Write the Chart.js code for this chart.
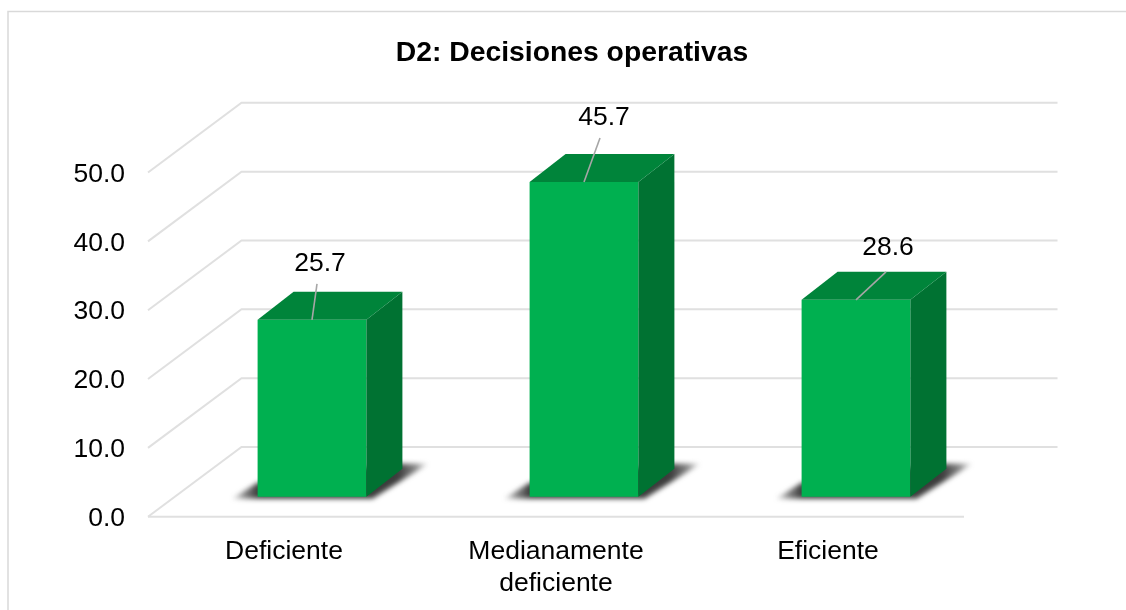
<!DOCTYPE html>
<html><head><meta charset="utf-8">
<style>html,body{margin:0;padding:0;background:#fff}canvas{display:block}</style>
<script src="https://cdn.jsdelivr.net/npm/chart.js@4"></script>
</head><body><canvas id="c" width="1126" height="610"></canvas>
<script>
const categories = [["Deficiente"], ["Medianamente", "deficiente"], ["Eficiente"]];
const values = [25.7, 45.7, 28.6];
const valueTexts = ["25.7", "45.7", "28.6"];
const tickStep = 10;
const axisMax = 50;

// depth of the pseudo-3D box and walls (px)
const WALL = {dx: 93.5, dy: 69.7};
const BAR = {dx: 36, dy: 28, shiftX: 28, shiftY: 20};
const CALLOUTS = [
  {tx: 8, ty: -56.5, lx: 5, ly: -36},
  {tx: 20, ty: -64, lx: 16, ly: -44},
  {tx: 32, ty: -52, lx: 30, ly: -28}
];
const FONT_SIZE = 26.5;

const fake3d = {
  id: 'fake3d',
  afterLayout(chart) {
    chart.titleBlock.left += 90; chart.titleBlock.right += 90;
  },
  beforeDraw(chart) {
    const c = chart.ctx;
    c.save();
    c.fillStyle = '#fff'; c.fillRect(0, 0, chart.width, chart.height);
    c.strokeStyle = '#d9d9d9'; c.lineWidth = 1.5;
    c.beginPath(); c.moveTo(8, 610); c.lineTo(8, 11.5); c.lineTo(1126, 11.5); c.stroke();
    c.restore();
  },
  beforeDatasetsDraw(chart) {
    const c = chart.ctx, y = chart.scales.y, a = chart.chartArea;
    c.save();
    c.strokeStyle = '#e0e0e0'; c.lineWidth = 2;
    y.ticks.forEach(t => {
      const py = y.getPixelForValue(t.value);
      c.beginPath();
      c.moveTo(a.left, py);
      c.lineTo(a.left + WALL.dx, py - WALL.dy);
      c.lineTo(a.right + WALL.dx, py - WALL.dy);
      c.stroke();
    });
    const p0 = y.getPixelForValue(0);
    c.beginPath(); c.moveTo(a.left, p0); c.lineTo(a.right, p0); c.stroke();
    // floor shadows
    chart.getDatasetMeta(0).data.forEach(b => {
      const L = b.x - b.width / 2 + BAR.shiftX, R = b.x + b.width / 2 + BAR.shiftX, B = b.base - BAR.shiftY;
      const g = c.createLinearGradient(L - 26, 0, R + BAR.dx + 26, 0);
      const w = b.width + BAR.dx + 52;
      g.addColorStop(0, 'rgba(90,90,90,.1)');
      g.addColorStop(13 / w, 'rgba(70,70,70,.65)');
      g.addColorStop(26 / w, 'rgba(50,50,50,.95)');
      g.addColorStop((w - 30) / w, 'rgba(50,50,50,.95)');
      g.addColorStop((w - 13) / w, 'rgba(70,70,70,.65)');
      g.addColorStop(1, 'rgba(90,90,90,.1)');
      c.save();
      c.filter = 'blur(2.5px)';
      c.fillStyle = g;
      c.beginPath();
      c.moveTo(L - 26, B + 2);
      c.lineTo(R + 6, B + 2);
      c.lineTo(R + BAR.dx + 26, B - BAR.dy - 5);
      c.lineTo(R + BAR.dx - 6, B - BAR.dy - 5);
      c.lineTo(L, B - 14);
      c.closePath(); c.fill();
      c.restore();
    });
    // bars stand on the floor, behind the front edge
    c.restore();
    c.save();
    c.translate(BAR.shiftX, -BAR.shiftY);
  },
  afterDatasetsDraw(chart) {
    const c = chart.ctx;
    chart.getDatasetMeta(0).data.forEach(b => {
      const L = b.x - b.width / 2, R = b.x + b.width / 2, T = b.y, B = b.base;
      c.fillStyle = '#007232';
      c.beginPath(); c.moveTo(R, T); c.lineTo(R + BAR.dx, T - BAR.dy); c.lineTo(R + BAR.dx, B - BAR.dy); c.lineTo(R, B); c.closePath(); c.fill();
      c.fillStyle = '#00843A';
      c.beginPath(); c.moveTo(L, T); c.lineTo(L + BAR.dx, T - BAR.dy); c.lineTo(R + BAR.dx, T - BAR.dy); c.lineTo(R, T); c.closePath(); c.fill();
    });
    c.restore();
    c.save();
    chart.getDatasetMeta(0).data.forEach((b, i) => {
      const cx = b.x + BAR.shiftX, top = b.y - BAR.shiftY, o = CALLOUTS[i];
      c.strokeStyle = '#a6a6a6'; c.lineWidth = 1.6;
      c.beginPath(); c.moveTo(cx, top); c.lineTo(cx + o.lx, top + o.ly); c.stroke();
      c.fillStyle = '#000';
      c.font = FONT_SIZE + 'px "Liberation Sans"';
      c.textAlign = 'center'; c.textBaseline = 'middle';
      c.fillText(valueTexts[i], cx + o.tx, top + o.ty);
    });
    c.restore();
  }
};

new Chart(document.getElementById('c'), {
  type: 'bar',
  data: {
    labels: categories,
    datasets: [{
      data: values,
      backgroundColor: '#00B050',
      borderWidth: 0,
      barPercentage: 0.4,
      categoryPercentage: 1,
      clip: false
    }]
  },
  options: {
    responsive: false,
    animation: false,
    layout: {padding: {left: 0, right: 162, top: 0, bottom: 0}},
    plugins: {
      legend: {display: false},
      tooltip: {enabled: false},
      title: {
        display: true,
        text: 'D2: Decisiones operativas',
        color: '#000',
        font: {family: '"Liberation Sans"', size: 28.3, weight: 'bold'},
        padding: {top: 36, bottom: 102.54}
      }
    },
    scales: {
      x: {
        grid: {display: false},
        border: {display: false},
        ticks: {color: '#000', font: {family: '"Liberation Sans"', size: FONT_SIZE}, padding: 11, maxRotation: 0},
        afterFit(s) { s.height = 610 - 516.7; }
      },
      y: {
        min: 0, max: axisMax,
        grid: {display: false},
        border: {display: false},
        ticks: {
          stepSize: tickStep,
          color: '#000',
          font: {family: '"Liberation Sans"', size: FONT_SIZE},
          padding: 15,
          labelOffset: 2,
          callback: v => v.toFixed(1)
        },
        afterFit(s) { s.width = 148; }
      }
    }
  },
  plugins: [fake3d]
});
</script></body></html>
